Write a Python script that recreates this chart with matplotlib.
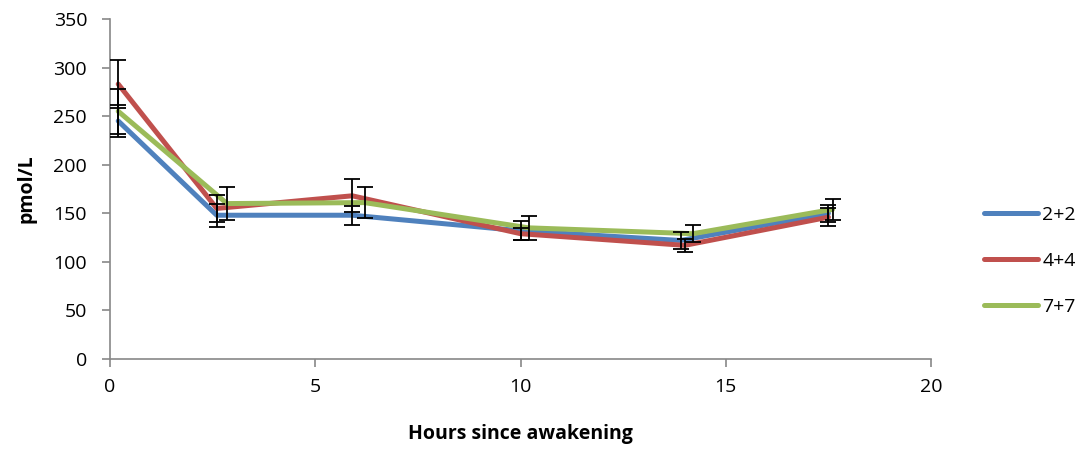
import matplotlib
matplotlib.use("Agg")
import matplotlib.pyplot as plt

# data
series_names = ["2+2", "4+4", "7+7"]
series_colors = ["#4F81BD", "#C0504D", "#9BBB59"]

x_22 = [0.2, 2.6, 5.9, 10.0, 13.9, 17.5]
y_22 = [245, 148, 148, 132, 122, 150]
e_22 = [16, 12, 10, 10, 9, 9]

x_44 = [0.2, 2.6, 5.9, 10.0, 14.0, 17.5]
y_44 = [283, 155, 168, 129, 117, 146]
e_44 = [25, 14, 17, 6, 7, 9]

x_77 = [0.2, 2.85, 6.2, 10.2, 14.2, 17.6]
y_77 = [255, 160, 161, 135, 129, 154]
e_77 = [23, 17, 16, 12, 9, 11]

xs = [x_22, x_44, x_77]
ys = [y_22, y_44, y_77]
es = [e_22, e_44, e_77]

plt.rcParams['font.family'] = ['Open Sans', 'DejaVu Sans']

fig = plt.figure(figsize=(10.86, 4.5), dpi=100)
ax = fig.add_axes([0.1013, 0.2022, 0.7560, 0.7556])

for i in range(len(series_names)):
    ax.plot(xs[i], ys[i], color=series_colors[i], lw=3.6,
            label=series_names[i], solid_capstyle='round', zorder=2)
    ax.errorbar(xs[i], ys[i], yerr=es[i], fmt='none', ecolor='black',
                elinewidth=1.3, capsize=5.5, capthick=1.3, zorder=3)

ax.set_xlim(0, 20)
ax.set_ylim(0, 350)
ax.set_xticks([0, 5, 10, 15, 20])
ax.set_yticks(range(0, 351, 50))
ax.spines['top'].set_visible(False)
ax.spines['right'].set_visible(False)
ax.spines['left'].set_color('#888888')
ax.spines['bottom'].set_color('#888888')
ax.spines['left'].set_linewidth(1.2)
ax.spines['bottom'].set_linewidth(1.2)
ax.tick_params(axis='both', direction='out', length=5.5, color='#888888',
               labelsize=14, width=1.2)
ax.tick_params(axis='x', pad=8)
ax.tick_params(axis='y', pad=11)

ax.set_xlabel('Hours since awakening', fontsize=14, fontweight='bold',
              labelpad=20)
ax.set_ylabel('pmol/L', fontsize=14, fontweight='bold', labelpad=12)

leg = ax.legend(loc='center left', bbox_to_anchor=(0.89, 0.42),
                bbox_transform=fig.transFigure, frameon=False, fontsize=14,
                handlelength=2.8, labelspacing=1.45, handletextpad=0.2)

fig.savefig('out.png', dpi=100)
